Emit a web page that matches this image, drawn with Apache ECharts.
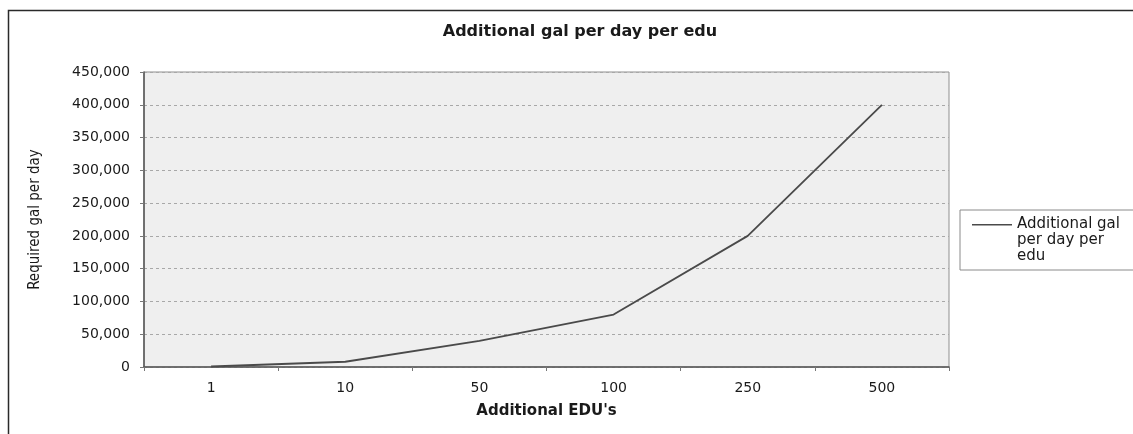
<!DOCTYPE html>
<html>
<head>
<meta charset="utf-8">
<script src="https://cdn.jsdelivr.net/npm/echarts@6/dist/echarts.min.js"></script>
<style>
  html, body { margin: 0; padding: 0; background: #ffffff; }
  #chart { width: 1133px; height: 434px; }
</style>
</head>
<body>
<div id="chart"></div>
<script>
// EDU counts along the x axis
const edus = ['1', '10', '50', '100', '250', '500'];
// Required gallons per day for each EDU count
const galPerDay = [800, 8000, 40000, 80000, 200000, 400000];
const seriesName = 'Additional gal per day per edu';

const chart = echarts.init(document.getElementById('chart'), null, { renderer: 'canvas' });

const labelFont = { fontFamily: 'DejaVu Sans', fontSize: 14, color: '#1a1a1a' };

chart.setOption({
  animation: false,
  backgroundColor: '#ffffff',
  title: {
    text: 'Additional gal per day per edu',
    left: 575,
    top: 19,
    textAlign: 'center',
    textStyle: { fontFamily: 'DejaVu Sans', fontWeight: 'bold', fontSize: 16, color: '#1a1a1a' }
  },
  graphic: [{
    type: 'rect',
    left: 6, top: 8,
    shape: { width: 1140, height: 440 },
    style: { fill: 'none', stroke: '#2a2a2a', lineWidth: 1.5 },
    silent: true,
    z: -1
  }],
  legend: {
    left: 960,
    top: 210,
    orient: 'vertical',
    padding: [6, 80, 6, 12],
    borderColor: '#8a8a8a',
    borderWidth: 1,
    // short line drawn at the top of a taller icon box so it sits beside the first text line
    icon: 'path://M0,0H40V1.6H0Z M0,32L0,32',
    itemWidth: 40,
    itemHeight: 32,
    itemGap: 0,
    formatter: () => 'Additional gal\nper day per\nedu',
    textStyle: { fontFamily: 'DejaVu Sans', fontSize: 15, lineHeight: 16, color: '#1a1a1a' }
  },
  grid: {
    left: 144, top: 72, right: 184, bottom: 67,
    show: true,
    backgroundColor: '#efefef',
    borderColor: '#8f8f8f',
    borderWidth: 1
  },
  xAxis: {
    type: 'category',
    data: edus,
    boundaryGap: true,
    name: "Additional EDU's",
    nameLocation: 'middle',
    nameGap: 37,
    nameTextStyle: { fontFamily: 'DejaVu Sans', fontWeight: 'bold', fontSize: 15, color: '#1a1a1a' },
    axisLine: { lineStyle: { color: '#555555', width: 1.5 } },
    axisTick: { show: true, length: 4, alignWithLabel: false, lineStyle: { color: '#777777' } },
    axisLabel: Object.assign({ margin: 14 }, labelFont),
    splitLine: { show: false }
  },
  yAxis: {
    type: 'value',
    min: 0,
    max: 450000,
    interval: 50000,
    name: 'Required gal per day',
    nameLocation: 'middle',
    nameGap: 101,
    nameTextStyle: { fontFamily: "'DejaVu Sans Condensed', 'Liberation Sans', sans-serif", fontSize: 15, color: '#1a1a1a' },
    axisLine: { show: true, lineStyle: { color: '#555555', width: 1.5 } },
    axisTick: { show: true, length: 4, lineStyle: { color: '#777777' } },
    axisLabel: Object.assign({
      margin: 14,
      formatter: v => v.toLocaleString('en-US')
    }, labelFont),
    splitLine: { show: true, lineStyle: { color: '#a8a8a8', type: [3, 3], width: 1 } }
  },
  series: [{
    name: seriesName,
    type: 'line',
    data: galPerDay,
    symbol: 'none',
    lineStyle: { color: '#4a4a4a', width: 1.8 },
    itemStyle: { color: '#4a4a4a' }
  }]
});
</script>
</body>
</html>
